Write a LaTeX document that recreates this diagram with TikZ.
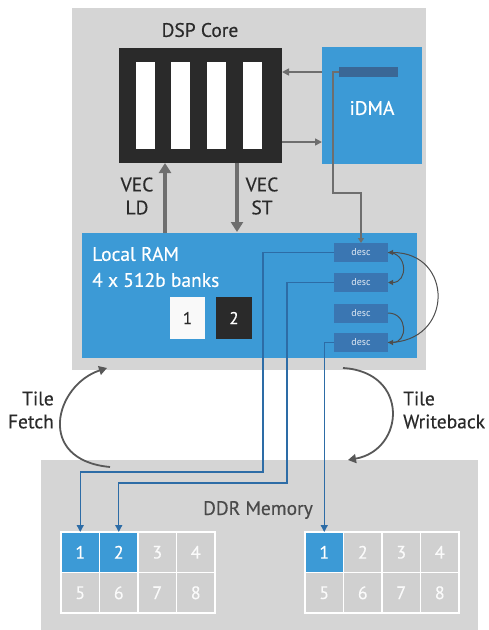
\documentclass[tikz,border=0pt]{standalone}
\usepackage{fontspec}
\setmainfont{PT Sans}
\newfontfamily\labelfont[FakeBold=0.4]{PT Sans}
\usetikzlibrary{arrows.meta}
\definecolor{panelgray}{HTML}{D5D5D5}
\definecolor{coreblack}{HTML}{2A2A2A}
\definecolor{chipblue}{HTML}{3C9AD6}
\definecolor{descblue}{HTML}{3A76B2}
\definecolor{barblue}{HTML}{3A6796}
\definecolor{arrowgray}{HTML}{6E6E6E}
\definecolor{linkblue}{HTML}{2D6CA6}
\definecolor{cellgray}{HTML}{D0D0D0}
\tikzset{
  blk/.style={draw=none, inner sep=0pt, outer sep=0pt, rectangle},
  lbl/.style={inner sep=0pt, font=\labelfont\fontsize{19.5}{23}\selectfont},
  fatarrow/.style={draw=arrowgray, line width=4pt, -{Triangle[width=12pt,length=10pt]}},
  thinarrow/.style={draw=arrowgray, line width=1.6pt, -{Triangle[width=7pt,length=7pt]}},
  looparrow/.style={draw=arrowgray!80!black, line width=1.8pt, -{Triangle[width=9pt,length=8pt]}},
  descarrow/.style={draw=arrowgray!70!black, line width=1pt, -{Triangle[width=5pt,length=5pt]}},
  linkarrow/.style={draw=linkblue, line width=1.3pt, -{Triangle[width=7pt,length=7pt]}},
  desc/.style={blk, fill=descblue, minimum width=54pt, minimum height=19pt,
    text=white!85!descblue, font=\fontsize{10}{11}\selectfont},
  cell/.style={blk, draw=white, line width=1.2pt, fill=cellgray, minimum width=38.5pt,
    minimum height=40.5pt, text=white!90!cellgray, font=\labelfont\fontsize{18}{20}\selectfont},
  hot/.style={fill=chipblue, text=white},
}
\begin{document}
\begin{tikzpicture}[x=1pt, y=-1pt]
\useasboundingbox (0,0) rectangle (489,630);
\fill[white] (0,0) rectangle (489,630);

% processor panel
\node[blk, fill=panelgray, minimum width=354pt, minimum height=362pt] (top) at (249,189) {};
\node[lbl, text=coreblack] (dsplbl) at (200,30) {DSP Core};

% register file with four vector lanes
\node[blk, fill=coreblack, minimum width=163pt, minimum height=115pt] (core) at (200.5,105.5) {};
\foreach \i/\x in {1/145.5, 2/180.5, 3/216.5, 4/252.5}
  \node[blk, fill=white, minimum width=19pt, minimum height=87pt] (lane\i) at (\x,105.5) {};

% DMA engine
\node[blk, fill=chipblue, minimum width=100pt, minimum height=117pt] (idma) at (372,105.5) {};
\node[blk, fill=barblue, minimum width=59pt, minimum height=10pt] (qbar) at (368.5,72) {};
\node[lbl, text=white] (idmalbl) at (372,108) {iDMA};

\draw[thinarrow] (idma.west |- qbar) -- (core.east |- qbar);
\draw[thinarrow] ([yshift=-36.5pt]core.east) -- ([yshift=-36.5pt]core.east -| idma.west);

% local memory
\node[blk, fill=chipblue, minimum width=335pt, minimum height=125pt] (ram) at (249.5,295.5) {};
\node[lbl, text=white, anchor=west] (ramlbl1) at (92,254) {Local RAM};
\node[lbl, text=white, anchor=west] (ramlbl2) at (92,280) {4 x 512b banks};
\node[blk, fill=white!85!panelgray, minimum width=35pt, minimum height=42pt,
  font=\labelfont\fontsize{17}{19}\selectfont, text=coreblack] (bank1) at (187.5,318) {1};
\node[blk, fill=coreblack, minimum width=36pt, minimum height=42pt,
  font=\labelfont\fontsize{17}{19}\selectfont, text=white] (bank2) at (234,318) {2};

% descriptor chain
\node[desc] (d1) at (361,252.5) {desc};
\node[desc] (d2) at (361,282.5) {desc};
\node[desc] (d3) at (361,313) {desc};
\node[desc] (d4) at (361,342.5) {desc};
\draw[descarrow] (d1.east) .. controls +(20,0) and +(20,0) .. (d2.east);
\draw[descarrow] (d3.east) .. controls +(20,0) and +(20,0) .. (d4.east);
\draw[descarrow] (d4.east) .. controls +(66,0) and +(66,0) .. (d1.east);

% DMA queue feeds the descriptor chain
\coordinate (qdrop) at (333,193);
\draw[arrowgray, line width=1.3pt, -{Triangle[width=6pt,length=5pt]}]
  (qbar.west) -- (qdrop |- qbar) -- (qdrop) -| (d1.north);

% vector load / store
\coordinate (ldx) at (165,0);
\coordinate (stx) at (237,0);
\draw[fatarrow] (ram.north -| ldx) -- (core.south -| ldx);
\draw[fatarrow] (core.south -| stx) -- ([yshift=1pt]ram.north -| stx);
\node[lbl, text=coreblack, align=center] (ldlbl) at (137,196) {VEC\\LD};
\node[lbl, text=coreblack, align=center] (stlbl) at (262,196) {VEC\\ST};

% external memory
\node[blk, fill=panelgray, minimum width=437pt, minimum height=172pt] (ddr) at (259.5,546) {};
\node[lbl, text=coreblack!85!white] (ddrlbl) at (258,510) {DDR Memory};

\foreach \n [count=\k from 0] in {1,...,4} {
  \node[cell] (L\n) at (80.25+38.5*\k,552.25) {\n};
  \node[cell] (R\n) at (324.25+38.5*\k,552.25) {\n};
}
\foreach \n [count=\k from 0] in {5,...,8} {
  \node[cell] (L\n) at (80.25+38.5*\k,592.75) {\n};
  \node[cell] (R\n) at (324.25+38.5*\k,592.75) {\n};
}
\node[cell, hot] at (L1) {1};
\node[cell, hot] at (L2) {2};
\node[cell, hot] at (R1) {1};

% descriptor transfers between local RAM and DDR
\coordinate (f1) at (263,472);
\coordinate (f2) at (287,483);
\coordinate (w1) at (324.25,0);
\draw[linkarrow] (d1.west) -| (f1) -| (L1.north);
\draw[linkarrow] (d2.west) -| (f2) -| (L2.north);
\draw[linkarrow] (d4.west) -| (w1 |- R1.north);

% tile fetch / writeback loops
\coordinate (fs) at (110,467);
\coordinate (fe) at (107,368);
\coordinate (ws) at (343,368);
\coordinate (we) at (348,460);
\draw[looparrow] (fs) .. controls (35,460) and (55,385) .. (fe);
\draw[looparrow] (ws) .. controls (410,372) and (405,450) .. (we);
\node[lbl, text=coreblack, align=right, anchor=east] (fetchlbl) at (54,410) {Tile\\Fetch};
\node[lbl, text=coreblack, align=left, anchor=west] (wblbl) at (403,410) {Tile\\Writeback};
\end{tikzpicture}
\end{document}
